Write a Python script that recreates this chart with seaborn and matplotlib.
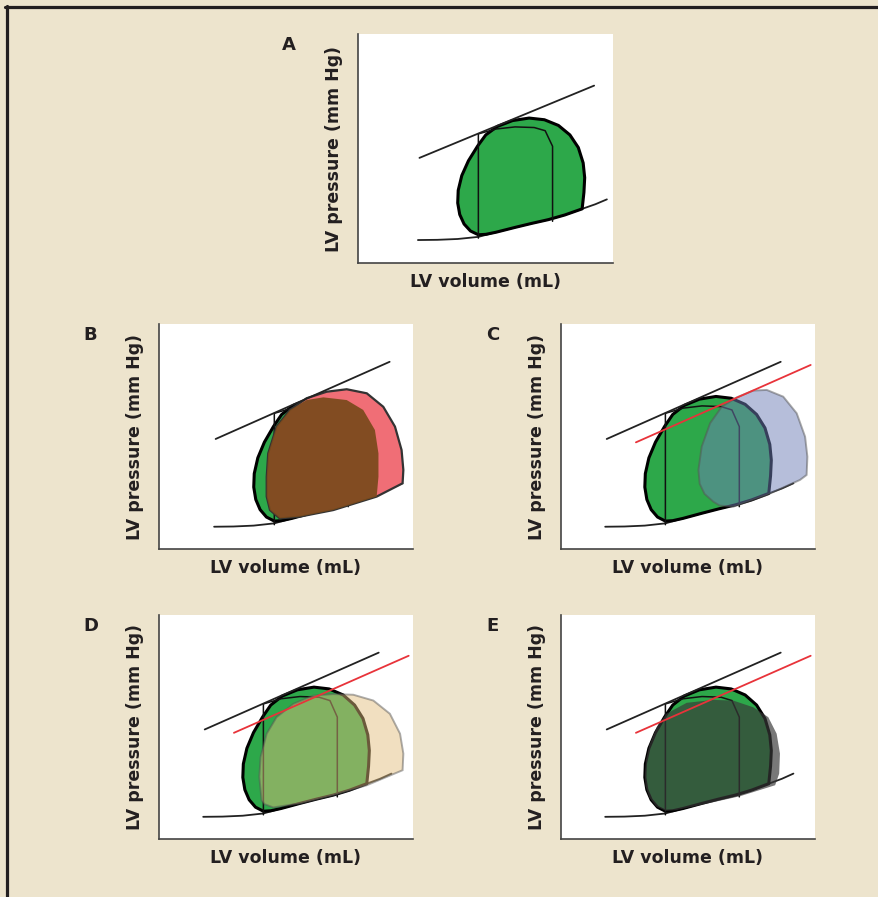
import matplotlib
matplotlib.use("Agg")
import matplotlib.pyplot as plt
import seaborn as sns
from matplotlib.lines import Line2D

sns.set_theme(style="white")
plt.rcParams["font.family"] = ["DejaVu Sans"]

# ---- data (LV volume / LV pressure, arbitrary schematic units) ----
# baseline pressure-volume loop
loop_vol = [41.1, 38.0, 35.5, 33.8, 33.0, 33.2, 34.6, 37.2, 40.8, 44.0, 48.5,
            54.5, 61.0, 67.0, 72.5, 77.0, 80.3, 82.2, 82.8, 82.5, 81.8, 75.0,
            68.6, 62.0, 55.5, 48.0, 44.0]
loop_pres = [12.4, 14.2, 17.5, 22.0, 27.5, 33.5, 40.5, 47.5, 54.5, 59.8, 63.8,
             66.6, 67.8, 67.0, 64.3, 59.8, 53.8, 46.5, 39.5, 32.5, 24.7, 21.8,
             19.6, 17.8, 15.9, 13.6, 12.6]
# isovolumic phases / ejection (inner lines of the loop)
inner_vol = [41.1, 41.1, 48.0, 55.5, 63.0, 67.3, 70.2, 70.2]
inner_pres = [10.8, 60.3, 62.6, 63.6, 63.3, 61.8, 54.4, 18.8]
# end-systolic (ESPVR) and end-diastolic (EDPVR) relations
espvr_vol = [18.0, 86.5]
espvr_pres = [48.9, 83.2]
espvr_new_vol = [29.5, 98.3]
espvr_new_pres = [47.4, 81.8]
edpvr_vol = [17.4, 25.0, 33.0, 41.1, 48.0, 55.5, 62.0, 68.6, 75.0, 81.8, 87.0, 91.5]
edpvr_pres = [9.9, 10.0, 10.4, 11.4, 13.6, 15.9, 17.8, 19.6, 21.8, 24.7, 26.9, 29.2]

# panel B loops
pink_vol = [38.1, 38.7, 42.0, 47.3, 53.8, 61.7, 69.6, 77.5, 84.0, 88.6, 91.2,
            91.9, 91.6, 81.4, 64.3, 51.2, 43.3, 39.4, 38.1]
pink_pres = [32.1, 42.5, 54.4, 61.8, 67.0, 69.9, 71.0, 69.2, 63.2, 54.4, 44.0,
             35.1, 29.2, 23.3, 17.3, 14.4, 13.6, 17.3, 23.3]
brown_vol = [38.1, 38.7, 42.0, 47.3, 53.8, 60.4, 69.6, 76.1, 80.7, 82.1, 82.1,
             81.4, 64.3, 51.2, 43.3, 39.4, 38.1]
brown_pres = [32.1, 42.5, 54.4, 61.8, 66.2, 67.4, 66.2, 61.8, 52.9, 42.5, 32.1,
              23.3, 17.3, 14.4, 13.6, 17.3, 23.3]
# panel C loop
blue_vol = [60.0, 56.5, 54.6, 54.1, 55.4, 58.7, 63.3, 69.2, 75.7, 81.0, 87.5,
            92.8, 96.1, 97.0, 96.7, 94.1, 81.0, 67.8, 62.5]
blue_pres = [21.0, 24.5, 29.0, 35.1, 45.5, 55.9, 63.2, 67.4, 70.4, 70.7, 67.7,
             60.3, 49.9, 41.0, 32.9, 30.7, 24.0, 18.8, 19.3]
# panel D loop
beige_vol = [40.4, 39.5, 40.0, 42.4, 46.3, 52.9, 60.7, 68.6, 76.5, 84.4, 90.9,
             94.9, 96.2, 95.9, 81.8, 68.6, 55.5, 45.0, 41.5]
beige_pres = [17.3, 27.7, 36.6, 47.0, 54.4, 60.3, 64.0, 64.7, 64.4, 61.8, 55.9,
              47.0, 38.1, 30.7, 24.0, 19.6, 15.9, 14.1, 15.6]
# panel E loop
dark_vol = [41.2, 37.5, 34.8, 33.3, 33.0, 33.4, 34.8, 37.7, 41.6, 49.5, 60.0,
            67.8, 75.7, 81.6, 84.9, 86.2, 85.9, 84.3, 70.5, 54.7, 45.0]
dark_pres = [12.6, 14.5, 18.5, 23.5, 28.5, 35.0, 42.0, 50.0, 56.0, 60.8, 62.1,
             61.8, 58.8, 54.4, 47.0, 38.1, 29.2, 24.0, 19.1, 15.1, 12.8]

panel_letters = ["A", "B", "C", "D", "E"]
xlabel = "LV volume (mL)"
ylabel = "LV pressure (mm Hg)"

# ---- layout (pixels of the 879x897 page) ----
W, H = 879, 897
boxes = {"A": (358, 34, 613, 263), "B": (159, 324, 413, 549),
         "C": (561, 324, 815, 549), "D": (159, 615, 413, 839),
         "E": (561, 615, 815, 839)}
view = {"A": ((-6.1, 93.9), (-1.0, 107.7)), "B": ((-4.3, 95.7), (0, 100)),
        "C": ((0, 100), (0, 100)), "D": ((0, 100), (0, 100)),
        "E": ((0, 100), (0, 100))}

bg = "#EDE4CD"
green = "#2DA84A"
ink = "#231F20"

fig = plt.figure(figsize=(W / 100, H / 100), dpi=100, facecolor=bg)
fig.add_artist(Line2D([5 / W, 1], [1 - 7 / H, 1 - 7 / H], color=ink, lw=2.3))
fig.add_artist(Line2D([7 / W, 7 / W], [0, 1 - 6 / H], color=ink, lw=2.3))


def base_loop(ax):
    sns.lineplot(x=edpvr_vol, y=edpvr_pres, sort=False, estimator=None,
                 color="#222222", lw=1.3, ax=ax)
    ax.fill(loop_vol, loop_pres, facecolor=green, edgecolor="black", lw=2.2,
            joinstyle="round", zorder=3)
    sns.lineplot(x=inner_vol, y=inner_pres, sort=False, estimator=None,
                 color="#111111", lw=1.1, ax=ax, zorder=3)


for letter in panel_letters:
    l, t, r, b = boxes[letter]
    ax = fig.add_axes([l / W, 1 - b / H, (r - l) / W, (b - t) / H])
    ax.set_facecolor("white")
    base_loop(ax)

    if letter == "B":
        ax.fill(pink_vol, pink_pres, facecolor="#F06E76", edgecolor="#333333",
                lw=1.6, zorder=4)
        ax.fill(brown_vol, brown_pres, facecolor="#7A4A1C", edgecolor="none",
                alpha=0.93, zorder=5)
    elif letter == "C":
        ax.fill(blue_vol, blue_pres, facecolor="#6E7EB6", edgecolor="#555555",
                lw=1.4, alpha=0.5, zorder=4)
    elif letter == "D":
        ax.fill(beige_vol, beige_pres, facecolor="#E2BC7C", edgecolor="#555555",
                lw=1.4, alpha=0.48, zorder=4)
    elif letter == "E":
        ax.fill(dark_vol, dark_pres, facecolor="#383838", edgecolor="none",
                alpha=0.68, zorder=4)

    sns.lineplot(x=espvr_vol, y=espvr_pres, sort=False, estimator=None,
                 color="#222222", lw=1.3, ax=ax, zorder=6)
    if letter in ("C", "D", "E"):
        sns.lineplot(x=espvr_new_vol, y=espvr_new_pres, sort=False,
                     estimator=None, color="#E8333A", lw=1.3, ax=ax, zorder=6)

    ax.set_xlim(*view[letter][0])
    ax.set_ylim(*view[letter][1])
    ax.set_xticks([])
    ax.set_yticks([])
    for s in ["top", "right"]:
        ax.spines[s].set_visible(False)
    for s in ["left", "bottom"]:
        ax.spines[s].set_color("#444444")
        ax.spines[s].set_linewidth(1.2)
    ax.set_xlabel(xlabel, fontsize=12.5, fontweight="bold", color=ink,
                  labelpad=7)
    ax.set_ylabel(ylabel, fontsize=12.5, fontweight="bold", color=ink,
                  labelpad=11)
    ax.text(-0.27, 0.95, letter, transform=ax.transAxes, fontsize=13,
            fontweight="bold", color=ink, ha="center", va="center")

fig.savefig("out.png", dpi=100, facecolor=bg)
